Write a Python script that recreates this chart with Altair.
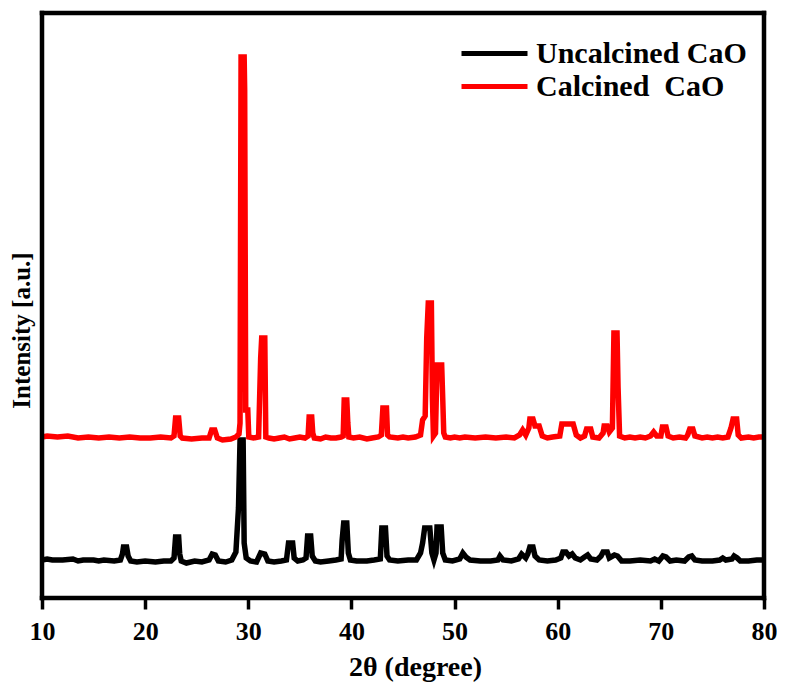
import altair as alt
import pandas as pd

# ---- data (2theta in degrees, intensity in a.u., offset-stacked as shown) ----
calc_2theta = [10.0, 10.5, 11.5, 12.5, 13.5, 14.5, 15.5, 16.5, 17.5, 18.5, 19.5, 20.5, 21.5, 22.5,
               22.8, 22.95, 23.25, 23.4, 23.6, 24.5, 25.5, 26.2, 26.45, 26.75, 27.0, 27.5, 28.3, 28.8, 29.1,
               29.2, 29.3, 29.6, 29.65, 29.75, 29.95, 30.05, 30.5, 31.0, 31.2, 31.3, 31.6, 31.7, 32.0,
               32.5, 33.0, 33.5, 34.0, 34.5, 35.0, 35.5, 35.8, 35.9, 36.15, 36.25, 36.4, 37.0, 37.5, 38.0,
               38.5, 39.0, 39.2, 39.3, 39.55, 39.65, 39.75, 40.2, 40.8, 41.5, 42.0, 42.6, 42.9, 43.05, 43.4,
               43.5, 43.7, 44.5, 45.0, 45.5, 46.2, 46.7, 46.9, 47.15, 47.3, 47.45, 47.75, 47.85, 47.95,
               48.15, 48.3, 48.75, 48.85, 48.95, 49.1, 49.6, 50.0, 50.5, 51.0, 52.0, 53.0, 54.0, 55.0,
               55.8, 56.3, 56.6, 56.9, 57.2, 57.3, 57.6, 57.8, 58.2, 58.5, 59.0, 59.5, 60.2, 60.4, 61.5,
               61.8, 62.2, 62.6, 62.8, 63.2, 63.4, 64.0, 64.4, 64.5, 64.8, 65.0, 65.3, 65.45, 65.75, 65.85,
               66.0, 66.5, 67.0, 67.5, 68.0, 68.5, 69.0, 69.3, 69.6, 70.0, 70.15, 70.5, 70.7, 71.2, 71.8,
               72.4, 72.6, 72.8, 73.1, 73.3, 74.0, 74.5, 75.0, 75.5, 76.0, 76.5, 76.8, 77.0, 77.35, 77.5,
               77.8, 78.5, 79.0, 79.5, 80.0]
calc_int = [161, 162, 161, 162, 160, 161, 160, 161, 160, 161, 160, 160, 161, 160,
            162, 180, 180, 162, 160, 159, 160, 160, 168, 168, 160, 158, 159, 161, 164,
            175, 541, 541, 508, 188, 188, 161, 160, 161, 240, 260, 260, 161, 160,
            159, 160, 161, 159, 160, 161, 160, 162, 181, 181, 165, 160, 159, 161, 160,
            160, 161, 162, 198, 198, 175, 161, 160, 161, 159, 160, 161, 163, 190, 190,
            163, 161, 160, 161, 160, 161, 163, 178, 182, 260, 295, 295, 200, 162,
            165, 233, 233, 200, 165, 161, 160, 161, 160, 161, 160, 161, 160, 161,
            160, 163, 168, 163, 170, 179, 179, 172, 172, 162, 160, 161, 162, 174, 174,
            163, 160, 162, 169, 169, 161, 160, 165, 172, 172, 166, 170, 265, 265, 211,
            162, 160, 161, 160, 161, 160, 162, 166, 162, 162, 171, 171, 162, 160, 161,
            160, 163, 169, 169, 162, 160, 161, 160, 161, 160, 161, 170, 179, 179, 163,
            160, 161, 160, 161, 161]

unc_2theta = [10.0, 10.5, 11.0, 12.0, 13.0, 13.5, 14.0, 15.0, 15.5, 16.0, 17.0, 17.6, 17.8, 17.9,
              18.2, 18.35, 18.6, 19.2, 20.0, 21.0, 21.8, 22.5, 22.8, 22.95, 23.25, 23.35, 23.5, 24.0,
              24.8, 25.5, 26.2, 26.5, 26.8, 27.1, 27.8, 28.4, 28.8, 29.05, 29.2, 29.5, 29.6, 29.8, 30.2,
              30.8, 31.2, 31.6, 31.9, 32.5, 33.2, 33.7, 33.9, 34.3, 34.45, 34.8, 35.3, 35.6, 35.75, 36.05,
              36.2, 36.5, 37.0, 37.8, 38.5, 39.0, 39.1, 39.25, 39.55, 39.7, 39.9, 40.5, 41.5, 42.2, 42.8,
              42.95, 43.3, 43.45, 43.7, 44.5, 45.5, 46.3, 46.7, 46.9, 47.1, 47.6, 47.8, 48.0, 48.2, 48.3,
              48.7, 48.85, 49.1, 49.8, 50.5, 50.8, 51.1, 51.5, 52.5, 53.5, 54.2, 54.4, 54.7, 55.5, 56.2,
              56.5, 56.9, 57.1, 57.3, 57.6, 57.8, 58.2, 59.0, 59.8, 60.3, 60.5, 60.8, 61.1, 61.4, 61.7,
              62.2, 62.6, 62.9, 63.2, 63.8, 64.2, 64.4, 64.8, 65.0, 65.5, 65.8, 66.2, 67.0, 68.0, 69.0,
              69.4, 69.8, 70.2, 70.5, 70.9, 71.5, 72.3, 72.7, 73.0, 73.3, 74.0, 75.0, 75.7, 76.0, 76.3,
              76.9, 77.1, 77.4, 77.7, 78.5, 79.3, 80.0]
unc_int = [38, 39, 38, 38, 39, 37, 38, 38, 37, 38, 37, 38, 44, 51,
           51, 42, 37, 36, 37, 36, 37, 37, 40, 61, 61, 44, 37, 35,
           37, 36, 38, 44, 43, 37, 36, 38, 46, 90, 158, 158, 55, 40, 37,
           36, 45, 44, 37, 36, 37, 38, 55, 55, 40, 37, 38, 40, 62, 62,
           42, 37, 36, 37, 38, 39, 58, 75, 75, 45, 38, 37, 37, 38, 39,
           70, 70, 42, 38, 37, 38, 38, 45, 55, 70, 70, 45, 38, 45, 71,
           71, 45, 38, 37, 39, 45, 41, 38, 37, 37, 38, 42, 38, 37, 39,
           44, 40, 44, 51, 51, 42, 38, 37, 38, 40, 46, 46, 42, 44, 40,
           38, 41, 43, 39, 38, 42, 46, 46, 40, 43, 42, 37, 37, 38, 37,
           39, 37, 42, 41, 37, 38, 37, 41, 42, 38, 37, 37, 38, 40, 38,
           39, 42, 40, 37, 37, 38, 38]

series_names = ["Uncalcined CaO", "Calcined\u00a0 CaO"]
series_colors = ["#000000", "#ff0000"]
x_ticks = [10, 20, 30, 40, 50, 60, 70, 80]
x_range = [10, 80]
y_range = [0, 585]

df = pd.concat([
    pd.DataFrame({"theta": unc_2theta, "I": unc_int, "s": series_names[0], "o": 0}),
    pd.DataFrame({"theta": calc_2theta, "I": calc_int, "s": series_names[1], "o": 1}),
])
# frame edges of the plot box, in data units
edges = pd.DataFrame({
    "x0": [x_range[0], x_range[0], x_range[0], x_range[1]],
    "x1": [x_range[1], x_range[1], x_range[0], x_range[1]],
    "y0": [y_range[0], y_range[1], y_range[0], y_range[0]],
    "y1": [y_range[0], y_range[1], y_range[1], y_range[1]],
})

FONT = "Liberation Serif"
W, H = 722, 585
xscale = alt.Scale(domain=x_range, nice=False, zero=False)
yscale = alt.Scale(domain=y_range, nice=False, zero=False)

x_enc = alt.X("theta:Q", scale=xscale,
              axis=alt.Axis(values=x_ticks, title="2θ (degree)", domain=False, grid=False,
                            tickSize=11, tickWidth=3.5, tickColor="#000000",
                            labelFont=FONT, labelFontSize=26, labelFontWeight="bold",
                            labelColor="black", labelPadding=9, labelFlush=False,
                            titleFont=FONT, titleFontSize=28, titleFontWeight="bold",
                            titleColor="black", titleX=373, titleY=77,
                            titleBaseline="alphabetic", titleAlign="center"))
y_enc = alt.Y("I:Q", scale=yscale,
              axis=alt.Axis(title="Intensity [a.u.]", ticks=False, labels=False, domain=False,
                            grid=False, titleFont=FONT, titleFontSize=25, titleFontWeight="bold",
                            titleColor="black", titleAngle=-90, titleX=-21, titleY=317,
                            titleBaseline="middle", titleAlign="center"))

color = alt.Color("s:N", scale=alt.Scale(domain=series_names, range=series_colors),
                  legend=alt.Legend(title=None, orient="none", legendX=435, legendY=23,
                                    symbolType="M-2.2,0H2.2", symbolSize=900, symbolStrokeWidth=5,
                                    labelFont=FONT, labelFontSize=30, labelFontWeight="bold",
                                    labelColor="black", labelLimit=500, rowPadding=0,
                                    labelOffset=24))

base = alt.Chart(df)
black = base.transform_filter(alt.datum.o == 0).mark_line(strokeWidth=5.5, strokeJoin="miter").encode(
    x=x_enc, y=y_enc, color=color, order="theta:Q")
red = base.transform_filter(alt.datum.o == 1).mark_line(strokeWidth=5.5, strokeJoin="miter").encode(
    x=x_enc, y=y_enc, color=color, order="theta:Q")
frame = alt.Chart(edges).mark_rule(color="#000000", strokeWidth=4.5, strokeCap="square",
                                   opacity=1).encode(
    x=alt.X("x0:Q", scale=xscale), x2="x1:Q",
    y=alt.Y("y0:Q", scale=yscale), y2="y1:Q")

chart = alt.layer(black, red, frame).properties(
    width=W, height=H,
    background="white",
    autosize=alt.AutoSizeParams(type="none"),
    padding={"left": 34, "top": 5, "right": 13, "bottom": 84},
).configure_view(stroke="#000000", strokeWidth=4, strokeOpacity=1)

chart.save("out.html", embed_options={"renderer": "svg", "actions": False})
